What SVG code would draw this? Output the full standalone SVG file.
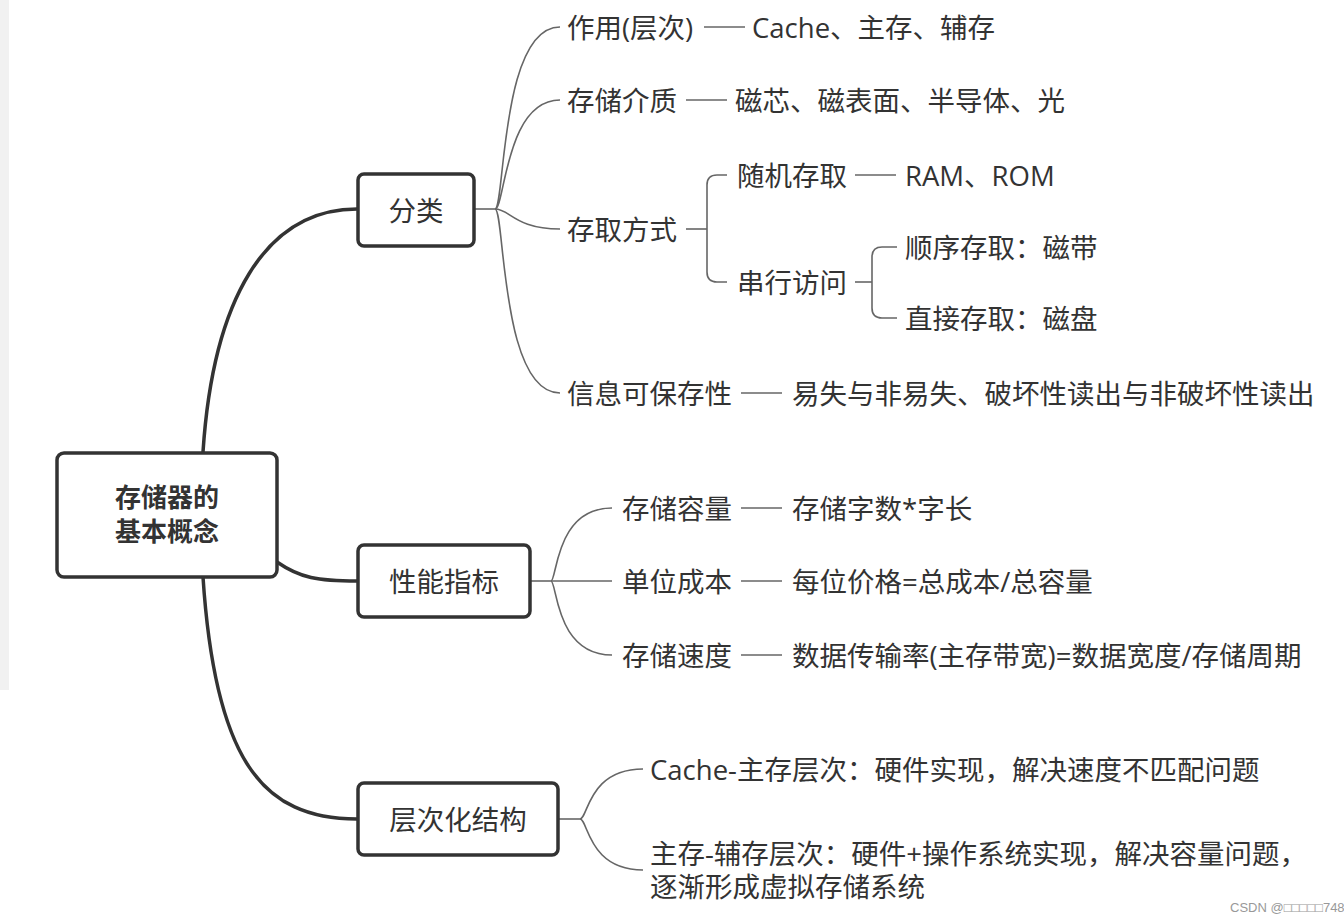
<svg xmlns="http://www.w3.org/2000/svg" width="1344" height="922" viewBox="0 0 1344 922">
<style>
text{font-family:"Open Sans","Noto Sans CJK SC",sans-serif;font-size:27.5px;fill:#333;dominant-baseline:central}
.c{text-anchor:middle}
.root{font-weight:bold;font-size:26px}
.box{fill:#fff;stroke:#333;stroke-width:3.5}
.main{fill:none;stroke:#333;stroke-width:3.5}
.br{fill:none;stroke:#666;stroke-width:1.6}
.wm{font-family:"Liberation Sans",sans-serif;font-size:13px;fill:#999}
</style>
<rect width="1344" height="922" fill="#fff"/>
<rect x="0" y="0" width="9" height="690" fill="#f1f1f1"/>
<g id="connectors">
<path class="main" d="M203,452 C213,300 265,209 357,209"/>
<path class="main" d="M277,562 C300,578 318,581 357,581"/>
<path class="main" d="M203,577 C215,760 262,819 357,819"/>
<path class="br" d="M474,209 H495"/>
<path class="br" d="M495,209 C505,209 500,27 560,27"/>
<path class="br" d="M495,209 C505,209 505,100 560,100"/>
<path class="br" d="M495,209 C510,209 515,229 560,229"/>
<path class="br" d="M495,209 C505,209 500,393 560,393"/>
<path class="br" d="M704,27 H745"/>
<path class="br" d="M686,100 H727"/>
<path class="br" d="M686,229 H707"/>
<path class="br" d="M727,175 H717 Q707,175 707,185 V272 Q707,282 717,282 H727"/>
<path class="br" d="M855,175 H896"/>
<path class="br" d="M855,282 H872"/>
<path class="br" d="M897,247 H882 Q872,247 872,257 V308 Q872,318 882,318 H897"/>
<path class="br" d="M741,393 H782"/>
<path class="br" d="M530,581 H551"/>
<path class="br" d="M551,581 C557,581 555,508 612,508"/>
<path class="br" d="M551,581 H612"/>
<path class="br" d="M551,581 C557,581 555,655 612,655"/>
<path class="br" d="M741,508 H782"/>
<path class="br" d="M741,581 H782"/>
<path class="br" d="M741,655 H782"/>
<path class="br" d="M558,819 H580"/>
<path class="br" d="M580,819 C588,819 588,769 643,769"/>
<path class="br" d="M580,819 C588,819 588,870 643,870"/>
</g>
<g id="root">
<rect class="box" x="57" y="453" width="220" height="124" rx="7"/>
<text class="c root" x="167" y="497">存储器的</text>
<text class="c root" x="167" y="531">基本概念</text>
</g>
<g id="n-fenlei">
<rect class="box" x="358" y="174" width="116" height="72" rx="6"/>
<text class="c" x="416" y="210">分类</text>
</g>
<g id="n-xingneng">
<rect class="box" x="358" y="545" width="172" height="72" rx="6"/>
<text class="c" x="444" y="581">性能指标</text>
</g>
<g id="n-cengci">
<rect class="box" x="358" y="783" width="200" height="72" rx="6"/>
<text class="c" x="458" y="819">层次化结构</text>
</g>
<g id="n-zuoyong"><text x="567" y="27">作用(层次)</text></g>
<g id="v-zuoyong"><text x="752" y="27">Cache、主存、辅存</text></g>
<g id="n-jiezhi"><text x="567" y="100">存储介质</text></g>
<g id="v-jiezhi"><text x="735" y="100">磁芯、磁表面、半导体、光</text></g>
<g id="n-fangshi"><text x="567" y="229">存取方式</text></g>
<g id="n-suiji"><text x="737" y="175">随机存取</text></g>
<g id="v-suiji"><text x="905" y="175">RAM、ROM</text></g>
<g id="n-chuanxing"><text x="737" y="282">串行访问</text></g>
<g id="n-shunxu"><text x="905" y="247">顺序存取：磁带</text></g>
<g id="n-zhijie"><text x="905" y="318">直接存取：磁盘</text></g>
<g id="n-baocun"><text x="567" y="393">信息可保存性</text></g>
<g id="v-baocun"><text x="792" y="393">易失与非易失、破坏性读出与非破坏性读出</text></g>
<g id="n-rongliang"><text x="622" y="508">存储容量</text></g>
<g id="v-rongliang"><text x="792" y="508">存储字数*字长</text></g>
<g id="n-chengben"><text x="622" y="581">单位成本</text></g>
<g id="v-chengben"><text x="792" y="581">每位价格=总成本/总容量</text></g>
<g id="n-sudu"><text x="622" y="655">存储速度</text></g>
<g id="v-sudu"><text x="792" y="655">数据传输率(主存带宽)=数据宽度/存储周期</text></g>
<g id="n-cache"><text x="650" y="769">Cache-主存层次：硬件实现，解决速度不匹配问题</text></g>
<g id="n-fucun">
<text x="650" y="853"><tspan x="650" y="853">主存-辅存层次：硬件+操作系统实现，解决容量问题，</tspan><tspan x="650" y="886">逐渐形成虚拟存储系统</tspan></text>
</g>
<text class="wm" x="1230" y="907">CSDN @□□□□□748</text>
</svg>
